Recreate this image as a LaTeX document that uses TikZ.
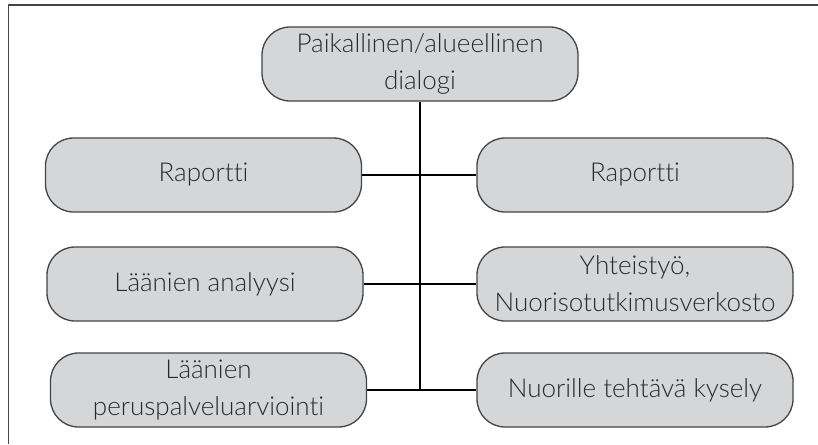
\documentclass[tikz,border=0pt]{standalone}
\usepackage{fontspec}
\setmainfont[Ligatures=NoCommon]{Lato Light}
\definecolor{boxfill}{HTML}{D5D6D8}
\definecolor{boxline}{HTML}{444444}
\definecolor{textgray}{HTML}{2A2A2A}
\begin{document}
\begin{tikzpicture}[x=1pt, y=-1pt, line join=round,
	box/.style={draw=boxline, line width=1.3pt, fill=boxfill, rounded corners=28pt,
		minimum width=316pt, minimum height=74pt, inner sep=0pt, align=center,
		text=textgray, font=\fontsize{26}{37}\selectfont},
	link/.style={draw=black, line width=2pt}]
	\useasboundingbox (0,0) rectangle (818,444);
	\draw[boxline, line width=1.3pt] (818,5) -- (8.5,5) -- (8.5,444);
	\path
	(420,64) node[box] (dialog) {Paikallinen/alueellinen\\dialogi}
	(203.5,175) node[box] (raportL) {Raportti}
	(635,175) node[box] (raportR) {Raportti}
	(205,284) node[box] (analyysi) {Läänien analyysi}
	(635,284) node[box] (yhteis) {Yhteistyö,\\Nuorisotutkimusverkosto}
	(208.5,390) node[box] (arviointi) {Läänien\\peruspalveluarviointi}
	(635,390) node[box] (kysely) {Nuorille tehtävä kysely};
	\draw[link] (dialog.south) -- (dialog.south |- kysely.west);
	\foreach \l/\r in {raportL/raportR,analyysi/yhteis,arviointi/kysely} \draw[link] (\l.east) -- (\r.west);
\end{tikzpicture}
\end{document}
